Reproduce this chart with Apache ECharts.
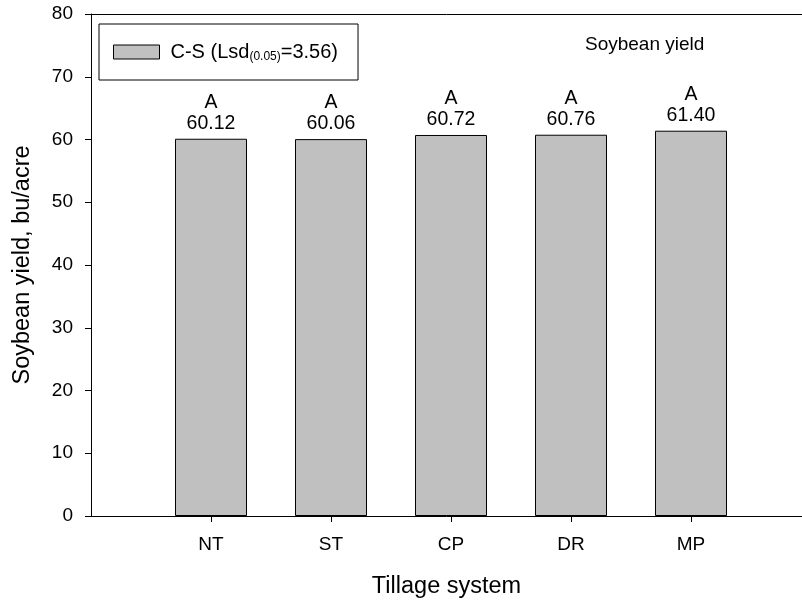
<!DOCTYPE html>
<html>
<head>
<meta charset="utf-8">
<script src="https://cdn.jsdelivr.net/npm/echarts@6/dist/echarts.min.js"></script>
<style>
  html, body { margin: 0; padding: 0; background: #fff; }
  #chart { width: 802px; height: 604px; }
</style>
</head>
<body>
<div id="chart"></div>
<script>
// tillage systems and soybean yield (bu/acre)
var systems = ["NT", "ST", "CP", "DR", "MP"];
var yields = [60.12, 60.06, 60.72, 60.76, 61.40];
var groups = ["A", "A", "A", "A", "A"];
var yTicks = [0, 10, 20, 30, 40, 50, 60, 70, 80];
var xTicks = [1, 2, 3, 4, 5];

var font = "Liberation Sans, Arial, sans-serif";
var chart = echarts.init(document.getElementById("chart"));

var barData = systems.map(function (s, i) {
  return { value: [xTicks[i], yields[i]], name: s, group: groups[i] };
});

var option = {
  animation: false,
  textStyle: { fontFamily: font, color: "#000" },
  title: {
    text: "Soybean yield",
    left: 585,
    top: 35,
    padding: 0,
    textStyle: { fontFamily: font, fontSize: 19, fontWeight: "normal", color: "#000" }
  },
  legend: {
    left: 99,
    top: 24,
    orient: "horizontal",
    icon: "rect",
    itemWidth: 46,
    itemHeight: 14,
    padding: [17, 20, 17, 14],
    borderColor: "#000",
    borderWidth: 1,
    itemStyle: { color: "#c0c0c0", borderColor: "#000", borderWidth: 1 },
    data: ["C-S"],
    formatter: function () {
      return "C-S (Lsd{sub|(0.05)}=3.56)";
    },
    textStyle: {
      fontFamily: font,
      fontSize: 20,
      lineHeight: 22,
      color: "#000",
      padding: [0, 0, 0, 6],
      rich: {
        sub: { fontFamily: font, fontSize: 12, lineHeight: 22, color: "#000", verticalAlign: "bottom", padding: [9, 0, 0, 0] }
      }
    }
  },
  grid: {
    left: 91,
    top: 14,
    bottom: 88,
    right: 0
  },
  xAxis: [
    {
      type: "value",
      min: 0,
      max: 5.925,
      name: "Tillage system",
      nameLocation: "middle",
      nameGap: 59,
      nameTextStyle: { fontFamily: font, fontSize: 23.5, color: "#000" },
      axisLine: { show: true, lineStyle: { color: "#000", width: 1 } },
      axisTick: { show: true, length: 6, lineStyle: { color: "#000" }, customValues: xTicks },
      axisLabel: {
        fontFamily: font,
        fontSize: 19,
        color: "#000",
        margin: 19,
        customValues: xTicks,
        formatter: function (v) { return systems[Math.round(v) - 1] || ""; }
      },
      splitLine: { show: false }
    },
    {
      // top frame line
      type: "value",
      position: "top",
      min: 0,
      max: 5.925,
      axisLine: { show: true, onZero: false, lineStyle: { color: "#000", width: 1 } },
      axisTick: { show: false },
      axisLabel: { show: false },
      splitLine: { show: false }
    }
  ],
  yAxis: {
    type: "value",
    min: 0,
    max: 80,
    interval: 10,
    name: "Soybean yield, bu/acre",
    nameLocation: "middle",
    nameGap: 56,
    nameTextStyle: { fontFamily: font, fontSize: 23.5, color: "#000" },
    axisLine: { show: true, lineStyle: { color: "#000", width: 1 } },
    axisTick: { show: true, length: 6, lineStyle: { color: "#000" } },
    axisLabel: {
      fontFamily: font,
      fontSize: 19,
      color: "#000",
      margin: 18,
      customValues: yTicks
    },
    splitLine: { show: false }
  },
  series: [
    {
      name: "C-S",
      type: "bar",
      barWidth: 72,
      data: barData,
      itemStyle: { color: "#c0c0c0", borderColor: "#000", borderWidth: 1 },
      label: {
        show: true,
        position: "top",
        distance: 5,
        fontFamily: font,
        fontSize: 19.5,
        lineHeight: 21,
        color: "#000",
        align: "center",
        formatter: function (p) {
          return p.data.group + "\n" + p.data.value[1].toFixed(2);
        }
      }
    }
  ]
};

chart.setOption(option);
</script>
</body>
</html>
